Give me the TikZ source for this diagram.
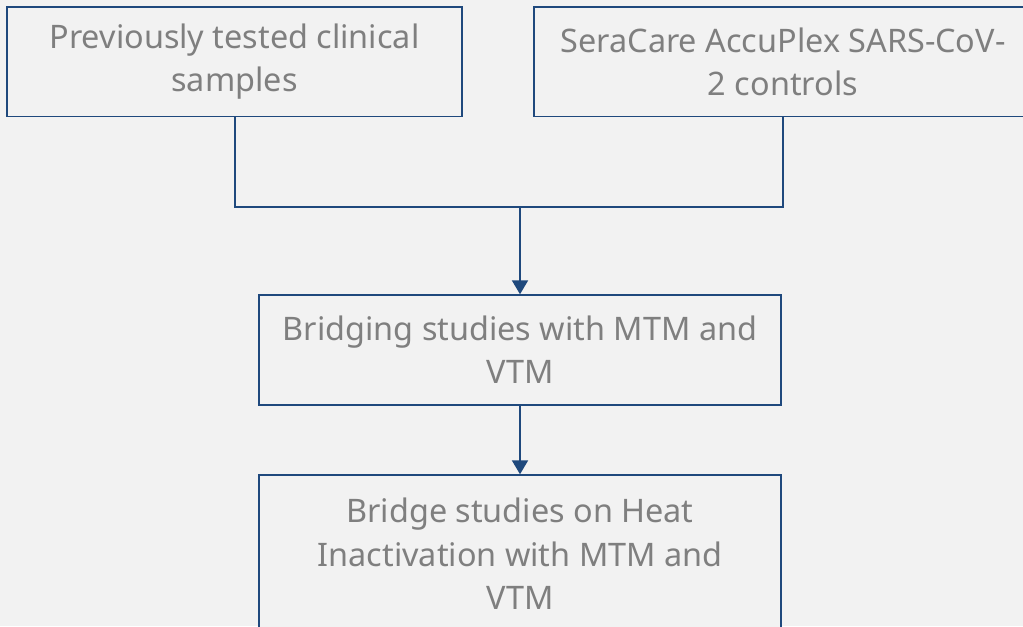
\documentclass[tikz,border=0pt]{standalone}
\usepackage{fontspec}
\setmainfont{Noto Sans}
\usetikzlibrary{arrows.meta}
\definecolor{bg}{HTML}{F2F2F2}
\definecolor{navy}{RGB}{31,73,125}
\definecolor{txt}{HTML}{7F7F7F}
\tikzset{
  box/.style={draw=navy, line width=1.1pt, fill=bg, text=txt, align=center, inner sep=0pt,
    font=\fontsize{24.3}{32.5}\selectfont},
  conn/.style={draw=navy, line width=1.5pt},
  arr/.style={conn, -{Triangle[width=12pt,length=10.5pt]}}
}
\begin{document}
\begin{tikzpicture}[x=0.75pt,y=-0.75pt]
\useasboundingbox (0,0) rectangle (1023,626);
\fill[bg] (0,0) rectangle (1023,626);
\begin{scope}
\clip (0,0) rectangle (1023,626);
\node[box, minimum width=455*0.75pt, minimum height=109.5*0.75pt] (A) at (234.5,61.75) {Previously tested clinical\\samples};
\node[box, minimum width=498*0.75pt, minimum height=109.5*0.75pt] (B) at (783,61.75) {SeraCare AccuPlex SARS-CoV-\\2 controls};
\node[box, minimum width=522*0.75pt, minimum height=110*0.75pt] (C) at (520,350) {Bridging studies with MTM and\\VTM};
\node[box, minimum width=522*0.75pt, minimum height=158*0.75pt] (D) at (520,554) {Bridge studies on Heat\\Inactivation with MTM and\\VTM};
\coordinate (j) at (520,207);
\draw[conn] (A.south) -- (A.south |- j) -- (B.south |- j) -- (B.south);
\draw[arr] (j) -- (C.north);
\draw[arr] (C.south) -- (D.north);
\end{scope}
\end{tikzpicture}
\end{document}
